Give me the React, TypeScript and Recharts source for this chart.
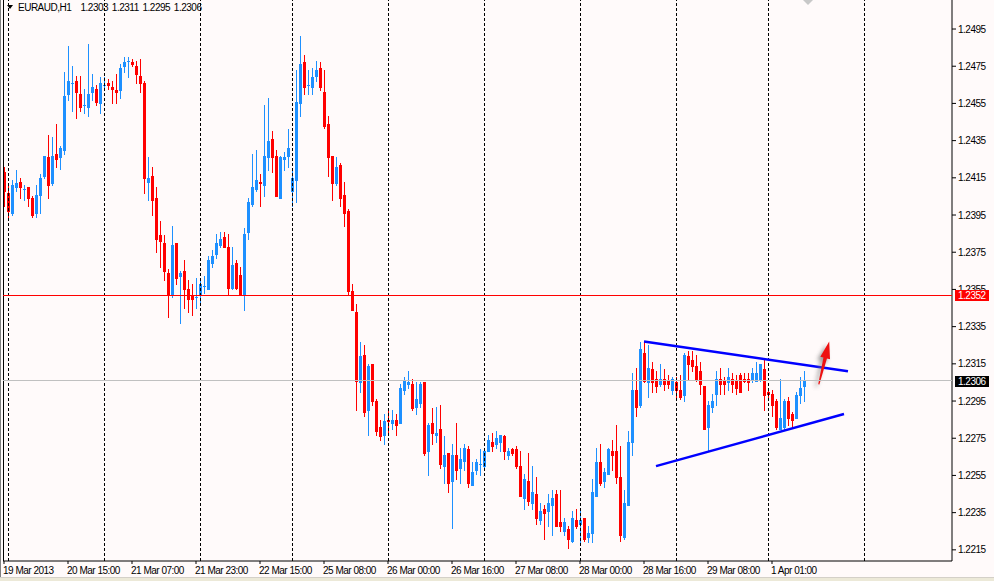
import { ComposedChart, Bar, XAxis, YAxis, ReferenceLine, ReferenceDot } from "recharts";

// EURAUD H1, bar 0 = 19 Mar 2013 23:00 ... bar 200 = 1 Apr 2013 09:00
const opens = [
  1.2418, 1.2407, 1.2396, 1.2410, 1.2413, 1.2409, 1.2410, 1.2404, 1.2396, 1.2406,
  1.2416, 1.2426, 1.2412, 1.2428, 1.2426, 1.2430, 1.2460, 1.2466, 1.2467, 1.2460,
  1.2454, 1.2453, 1.2461, 1.2463, 1.2455, 1.2465, 1.2466, 1.2464, 1.2462, 1.2462,
  1.2475, 1.2478, 1.2477, 1.2475, 1.2470, 1.2466, 1.2413, 1.2416, 1.2404, 1.2384,
  1.2380, 1.2364, 1.2352, 1.2380, 1.2362, 1.2365, 1.2355, 1.2352, 1.2351, 1.2352,
  1.2357, 1.2355, 1.2369, 1.2374, 1.2379, 1.2383, 1.2378, 1.2356, 1.2369, 1.2363,
  1.2352, 1.2386, 1.2401, 1.2409, 1.2413, 1.2411, 1.2426, 1.2436, 1.2427, 1.2404,
  1.2425, 1.2427, 1.2408, 1.2414, 1.2455, 1.2477, 1.2465, 1.2464, 1.2470, 1.2474,
  1.2461, 1.2444, 1.2427, 1.2412, 1.2422, 1.2406, 1.2397, 1.2354, 1.2343, 1.2305,
  1.2320, 1.2290, 1.2315, 1.2295, 1.2281, 1.2277, 1.2285, 1.2283, 1.2285, 1.2283,
  1.2301, 1.2304, 1.2304, 1.2292, 1.2294, 1.2305, 1.2268, 1.2283, 1.2277, 1.2280,
  1.2260, 1.2267, 1.2252, 1.2266, 1.2259, 1.2263, 1.2269, 1.2250, 1.2258, 1.2261,
  1.2260, 1.2268, 1.2273, 1.2272, 1.2273, 1.2276, 1.2266, 1.2269, 1.2269, 1.2260,
  1.2243, 1.2252, 1.2240, 1.2245, 1.2231, 1.2237, 1.2236, 1.2239, 1.2245, 1.2230,
  1.2225, 1.2226, 1.2220, 1.2231, 1.2229, 1.2232, 1.2222, 1.2224, 1.2244, 1.2262,
  1.2252, 1.2256, 1.2268, 1.2268, 1.2254, 1.2222, 1.2239, 1.2273, 1.2301, 1.2293,
  1.2321, 1.2305, 1.2312, 1.2307, 1.2304, 1.2307, 1.2306, 1.2301, 1.2305, 1.2301,
  1.2298, 1.2319, 1.2317, 1.2314, 1.2311, 1.2303, 1.2281, 1.2292, 1.2299, 1.2307,
  1.2306, 1.2305, 1.2307, 1.2306, 1.2309, 1.2307, 1.2307, 1.2307, 1.2306, 1.2307,
  1.2312, 1.2300, 1.2299, 1.2295, 1.2280, 1.2281, 1.2295, 1.2288, 1.2286, 1.2298,
  1.2303,
];

const highs = [
  1.2421, 1.2412, 1.2414, 1.2419, 1.2415, 1.2411, 1.2410, 1.2405, 1.2411, 1.2417,
  1.2427, 1.2438, 1.2437, 1.2444, 1.2432, 1.2472, 1.2486, 1.2475, 1.2470, 1.2470,
  1.2463, 1.2487, 1.2471, 1.2465, 1.2469, 1.2469, 1.2468, 1.2467, 1.2471, 1.2476,
  1.2480, 1.2480, 1.2479, 1.2478, 1.2479, 1.2467, 1.2426, 1.2421, 1.2410, 1.2392,
  1.2384, 1.2366, 1.2389, 1.2380, 1.2365, 1.2371, 1.2360, 1.2358, 1.2361, 1.2361,
  1.2362, 1.2373, 1.2376, 1.2385, 1.2386, 1.2386, 1.2385, 1.2378, 1.2371, 1.2367,
  1.2388, 1.2404, 1.2428, 1.2430, 1.2417, 1.2454, 1.2458, 1.2440, 1.2430, 1.2427,
  1.2429, 1.2441, 1.2420, 1.2473, 1.2491, 1.2481, 1.2473, 1.2474, 1.2478, 1.2477,
  1.2473, 1.2448, 1.2427, 1.2426, 1.2423, 1.2413, 1.2398, 1.2358, 1.2347, 1.2327,
  1.2325, 1.2315, 1.2315, 1.2296, 1.2285, 1.2288, 1.2291, 1.2290, 1.2288, 1.2304,
  1.2308, 1.2311, 1.2307, 1.2305, 1.2305, 1.2305, 1.2283, 1.2291, 1.2292, 1.2293,
  1.2276, 1.2267, 1.2272, 1.2283, 1.2270, 1.2272, 1.2271, 1.2262, 1.2264, 1.2269,
  1.2269, 1.2277, 1.2278, 1.2279, 1.2277, 1.2277, 1.2270, 1.2270, 1.2271, 1.2268,
  1.2256, 1.2267, 1.2260, 1.2254, 1.2240, 1.2239, 1.2245, 1.2247, 1.2247, 1.2247,
  1.2232, 1.2228, 1.2236, 1.2237, 1.2236, 1.2232, 1.2228, 1.2253, 1.2270, 1.2272,
  1.2259, 1.2270, 1.2274, 1.2282, 1.2271, 1.2247, 1.2279, 1.2310, 1.2313, 1.2327,
  1.2327, 1.2325, 1.2316, 1.2311, 1.2315, 1.2312, 1.2309, 1.2308, 1.2308, 1.2309,
  1.2321, 1.2322, 1.2322, 1.2320, 1.2316, 1.2303, 1.2295, 1.2299, 1.2311, 1.2313,
  1.2308, 1.2313, 1.2310, 1.2309, 1.2310, 1.2310, 1.2310, 1.2313, 1.2316, 1.2315,
  1.2317, 1.2302, 1.2301, 1.2296, 1.2307, 1.2296, 1.2297, 1.2289, 1.2300, 1.2308,
  1.2311,
];

const lows = [
  1.2400, 1.2394, 1.2395, 1.2408, 1.2404, 1.2403, 1.2400, 1.2394, 1.2394, 1.2396,
  1.2415, 1.2404, 1.2411, 1.2421, 1.2420, 1.2428, 1.2457, 1.2451, 1.2447, 1.2451,
  1.2450, 1.2448, 1.2457, 1.2454, 1.2450, 1.2462, 1.2463, 1.2455, 1.2455, 1.2458,
  1.2472, 1.2469, 1.2475, 1.2466, 1.2461, 1.2407, 1.2403, 1.2395, 1.2375, 1.2367,
  1.2360, 1.2340, 1.2351, 1.2358, 1.2337, 1.2345, 1.2343, 1.2341, 1.2345, 1.2348,
  1.2353, 1.2355, 1.2367, 1.2372, 1.2378, 1.2378, 1.2352, 1.2355, 1.2355, 1.2352,
  1.2344, 1.2382, 1.2400, 1.2408, 1.2400, 1.2405, 1.2419, 1.2418, 1.2405, 1.2404,
  1.2419, 1.2421, 1.2400, 1.2402, 1.2448, 1.2460, 1.2460, 1.2460, 1.2467, 1.2462,
  1.2442, 1.2416, 1.2403, 1.2411, 1.2400, 1.2389, 1.2352, 1.2344, 1.2290, 1.2300,
  1.2287, 1.2277, 1.2293, 1.2277, 1.2274, 1.2272, 1.2278, 1.2280, 1.2277, 1.2283,
  1.2299, 1.2302, 1.2290, 1.2288, 1.2292, 1.2266, 1.2255, 1.2272, 1.2273, 1.2259,
  1.2251, 1.2246, 1.2227, 1.2253, 1.2251, 1.2258, 1.2249, 1.2250, 1.2256, 1.2255,
  1.2259, 1.2268, 1.2268, 1.2270, 1.2268, 1.2264, 1.2264, 1.2266, 1.2259, 1.2244,
  1.2237, 1.2239, 1.2237, 1.2229, 1.2229, 1.2221, 1.2228, 1.2223, 1.2228, 1.2225,
  1.2223, 1.2216, 1.2219, 1.2227, 1.2219, 1.2220, 1.2219, 1.2219, 1.2244, 1.2250,
  1.2249, 1.2256, 1.2258, 1.2251, 1.2220, 1.2221, 1.2239, 1.2266, 1.2287, 1.2292,
  1.2305, 1.2297, 1.2300, 1.2300, 1.2303, 1.2301, 1.2302, 1.2299, 1.2296, 1.2296,
  1.2295, 1.2307, 1.2311, 1.2306, 1.2299, 1.2280, 1.2268, 1.2289, 1.2293, 1.2299,
  1.2299, 1.2301, 1.2300, 1.2299, 1.2300, 1.2305, 1.2301, 1.2305, 1.2306, 1.2306,
  1.2290, 1.2296, 1.2287, 1.2280, 1.2280, 1.2280, 1.2282, 1.2281, 1.2286, 1.2294,
  1.2295,
];

const closes = [
  1.2408, 1.2397, 1.2411, 1.2412, 1.2410, 1.2409, 1.2404, 1.2395, 1.2406, 1.2415,
  1.2427, 1.2411, 1.2427, 1.2425, 1.2431, 1.2459, 1.2467, 1.2466, 1.2461, 1.2453,
  1.2454, 1.2460, 1.2464, 1.2456, 1.2466, 1.2465, 1.2465, 1.2463, 1.2461, 1.2474,
  1.2477, 1.2478, 1.2476, 1.2471, 1.2466, 1.2415, 1.2415, 1.2403, 1.2382, 1.2381,
  1.2365, 1.2352, 1.2379, 1.2361, 1.2364, 1.2355, 1.2350, 1.2350, 1.2351, 1.2358,
  1.2357, 1.2371, 1.2373, 1.2380, 1.2382, 1.2378, 1.2356, 1.2368, 1.2356, 1.2352,
  1.2385, 1.2402, 1.2410, 1.2414, 1.2412, 1.2427, 1.2435, 1.2426, 1.2405, 1.2426,
  1.2426, 1.2431, 1.2415, 1.2456, 1.2476, 1.2464, 1.2465, 1.2469, 1.2473, 1.2464,
  1.2443, 1.2426, 1.2412, 1.2421, 1.2404, 1.2396, 1.2354, 1.2344, 1.2306, 1.2319,
  1.2289, 1.2314, 1.2295, 1.2279, 1.2276, 1.2284, 1.2284, 1.2285, 1.2282, 1.2302,
  1.2306, 1.2305, 1.2291, 1.2296, 1.2304, 1.2267, 1.2282, 1.2278, 1.2278, 1.2261,
  1.2266, 1.2251, 1.2266, 1.2258, 1.2264, 1.2270, 1.2251, 1.2257, 1.2262, 1.2261,
  1.2268, 1.2274, 1.2271, 1.2275, 1.2277, 1.2268, 1.2268, 1.2267, 1.2260, 1.2244,
  1.2253, 1.2241, 1.2246, 1.2232, 1.2236, 1.2235, 1.2240, 1.2243, 1.2228, 1.2228,
  1.2230, 1.2221, 1.2232, 1.2228, 1.2231, 1.2221, 1.2224, 1.2246, 1.2262, 1.2251,
  1.2257, 1.2269, 1.2266, 1.2254, 1.2223, 1.2240, 1.2273, 1.2301, 1.2292, 1.2323,
  1.2306, 1.2313, 1.2305, 1.2303, 1.2307, 1.2304, 1.2304, 1.2307, 1.2301, 1.2297,
  1.2320, 1.2315, 1.2314, 1.2307, 1.2304, 1.2280, 1.2293, 1.2295, 1.2307, 1.2304,
  1.2304, 1.2308, 1.2304, 1.2302, 1.2300, 1.2306, 1.2305, 1.2310, 1.2310, 1.2315,
  1.2298, 1.2299, 1.2293, 1.2281, 1.2286, 1.2295, 1.2286, 1.2285, 1.2298, 1.2302,
  1.2306,
];

// time axis: bar index -> label
const tickIdx = [0, 16, 32, 48, 64, 80, 96, 112, 128, 144, 160, 176, 192];
const tickLabels = [
  "19 Mar 2013", "20 Mar 15:00", "21 Mar 07:00", "21 Mar 23:00", "22 Mar 15:00",
  "25 Mar 08:00", "26 Mar 00:00", "26 Mar 16:00", "27 Mar 08:00", "28 Mar 00:00",
  "28 Mar 16:00", "29 Mar 08:00", "1 Apr 01:00",
];
// period separators (first bar of each day)
const dayStarts = [1, 25, 49, 72, 96, 120, 144, 168, 191, 215];

const priceTicks = [
  1.2215, 1.2235, 1.2255, 1.2275, 1.2295, 1.2315, 1.2335, 1.2355,
  1.2375, 1.2395, 1.2415, 1.2435, 1.2455, 1.2475, 1.2495,
];

const levelLine = 1.2352;
const upperTrend = [{ x: 160, y: 1.2327 }, { x: 211, y: 1.2311 }];
const lowerTrend = [{ x: 163, y: 1.2260 }, { x: 210, y: 1.2288 }];
const arrowPts = [{ x: 203.7, y: 1.2304 }, { x: 206.3, y: 1.2327 }];

const X_DOMAIN = [-0.25, 237];
const Y_DOMAIN = [1.2209, 1.25106];

const UP = "#1E90FF";
const DOWN = "#FF0000";
const FONT = "'Liberation Sans', Arial, sans-serif";

const Candle = (props: any) => {
  const { x, y, width, height, payload } = props;
  if (!payload) return null;
  const { open, close, high, low } = payload;
  const top = Math.min(y, y + height);
  const h = Math.abs(height);
  const span = high - low;
  const toY = (p: number) => (span > 0 ? top + ((high - p) / span) * h : top);
  const cx = Math.round(x + width / 2);
  const color = close >= open ? UP : DOWN;
  const wTop = Math.round(top);
  const wBot = Math.round(top + h);
  const bTop = Math.round(toY(Math.max(open, close)));
  const bBot = Math.round(toY(Math.min(open, close)));
  return (
    <g shapeRendering="crispEdges">
      <rect x={cx} y={wTop} width={1} height={Math.max(1, wBot - wTop + 1)} fill={color} />
      <rect x={cx - 1} y={bTop} width={3} height={Math.max(1, bBot - bTop + 1)} fill={color} />
    </g>
  );
};

const XTick = (props: any) => {
  const { x, y, payload } = props;
  const k = tickIdx.indexOf(payload.value);
  return (
    <text x={x - 1} y={y + 10} fontSize={10} fontFamily={FONT} letterSpacing={-0.5} fill="#000" textAnchor="start">
      {k >= 0 ? tickLabels[k] : ""}
    </text>
  );
};

const YTick = (props: any) => {
  const { x, y, payload } = props;
  return (
    <text x={x} y={y + 3.5} fontSize={10} fontFamily={FONT} letterSpacing={-0.5} fill="#000" textAnchor="start">
      {Number(payload.value).toFixed(4)}
    </text>
  );
};

const priceTag = (fill: string, value: number) => (p: any) => {
  const vb = p.viewBox || {};
  const bx = vb.x + vb.width + 3;
  return (
    <g shapeRendering="crispEdges">
      <rect x={bx} y={vb.y - 5} width={34} height={11} fill={fill} />
      <text x={bx + 3} y={vb.y + 4} fontSize={10} fontFamily={FONT} letterSpacing={-0.5} fill="#fff">
        {value.toFixed(4)}
      </text>
    </g>
  );
};

const Arrow = (p: any) => {
  const { x1, y1, x2, y2 } = p;
  const dx = x2 - x1;
  const dy = y2 - y1;
  const len = Math.sqrt(dx * dx + dy * dy) || 1;
  const ux = dx / len;
  const uy = dy / len;
  const nx = -uy;
  const ny = ux;
  const headLen = 17;
  const bx = x2 - ux * headLen;
  const by = y2 - uy * headLen;
  const shape = [
    `${x1 + nx * 0.6},${y1 + ny * 0.6}`,
    `${bx + nx * 1.8},${by + ny * 1.8}`,
    `${bx + nx * 5},${by + ny * 5}`,
    `${x2},${y2}`,
    `${bx - nx * 5},${by - ny * 5}`,
    `${bx - nx * 1.8},${by - ny * 1.8}`,
    `${x1 - nx * 0.6},${y1 - ny * 0.6}`,
  ].join(" ");
  return (
    <g>
      <defs>
        <filter id="arrowShadow" x="-50%" y="-50%" width="200%" height="200%">
          <feGaussianBlur stdDeviation="2.2" />
        </filter>
      </defs>
      <polygon points={shape} fill="#777" opacity={0.75} transform="translate(-3,3)" filter="url(#arrowShadow)" />
      <polygon points={shape} fill="#EE1111" />
    </g>
  );
};

const Diamond = (p: any) => {
  const { cx, cy } = p;
  return <polygon points={`${cx - 5},${cy} ${cx},${cy - 5} ${cx + 5},${cy} ${cx},${cy + 5}`} fill="#C8C8C8" />;
};

export default function App() {
  const data = opens.map((o, i) => ({
    i,
    open: o,
    high: highs[i],
    low: lows[i],
    close: closes[i],
    range: [lows[i], highs[i]],
  }));
  const last = data.length - 1;

  return (
    <div style={{ position: "fixed", left: 0, top: 0, width: 994, height: 581, background: "#FFFAFA", overflow: "hidden" }}>
      <ComposedChart width={994} height={577} data={data} margin={{ top: 0, right: 0, bottom: 0, left: 3 }}>
        <XAxis
          dataKey="i"
          type="number"
          domain={X_DOMAIN}
          allowDataOverflow
          ticks={tickIdx}
          interval={0}
          tickSize={3}
          tickMargin={0}
          height={16}
          axisLine={{ stroke: "#000" }}
          tickLine={{ stroke: "#000" }}
          tick={XTick}
        />
        <YAxis
          orientation="right"
          type="number"
          domain={Y_DOMAIN}
          allowDataOverflow
          ticks={priceTicks}
          interval={0}
          width={42}
          tickSize={4}
          tickMargin={2}
          axisLine={{ stroke: "#000" }}
          tickLine={{ stroke: "#000" }}
          tick={YTick}
        />
        <ReferenceLine x={-0.25} stroke="#000" shapeRendering="crispEdges" />
        {dayStarts.map((d) => (
          <ReferenceLine key={d} x={d} stroke="#000" strokeDasharray="3 2" shapeRendering="crispEdges" />
        ))}
        <Bar dataKey="range" barSize={3} shape={Candle} isAnimationActive={false} />
        <ReferenceLine segment={upperTrend} stroke="#0000FF" strokeWidth={2.5} />
        <ReferenceLine segment={lowerTrend} stroke="#0000FF" strokeWidth={2.5} />
        <ReferenceLine segment={arrowPts} shape={Arrow} />
        <ReferenceDot x={201} y={1.25106} ifOverflow="visible" shape={Diamond} />
      </ComposedChart>

      {/* same scales, drawn on top so the price tags cover the axis labels */}
      <div style={{ position: "absolute", left: 0, top: 0, pointerEvents: "none" }}>
        <ComposedChart width={994} height={577} data={data} margin={{ top: 0, right: 42, bottom: 16, left: 3 }}>
          <XAxis dataKey="i" type="number" domain={X_DOMAIN} allowDataOverflow hide />
          <YAxis type="number" domain={Y_DOMAIN} allowDataOverflow hide />
          <ReferenceLine
            y={levelLine}
            stroke="#FF0000"
            strokeWidth={1}
            shapeRendering="crispEdges"
            label={priceTag("#FF0000", levelLine)}
          />
          <ReferenceLine
            y={closes[last]}
            stroke="#C0C0C0"
            strokeWidth={1}
            shapeRendering="crispEdges"
            label={priceTag("#000000", closes[last])}
          />
        </ComposedChart>
      </div>

      <svg width={220} height={14} style={{ position: "absolute", left: 0, top: 0 }}>
        <polygon points="7,5 13,5 10,9" fill="#000" />
        <text x={18} y={11} fontSize={10} fontFamily={FONT} letterSpacing={-0.5} fill="#000">EURAUD,H1</text>
        <text x={80.5} y={11} fontSize={10} fontFamily={FONT} letterSpacing={-0.5} wordSpacing={1.5} fill="#000">
          {`${opens[last].toFixed(4)} ${highs[last].toFixed(4)} ${lows[last].toFixed(4)} ${closes[last].toFixed(4)}`}
        </text>
      </svg>
      <div style={{ position: "absolute", left: 0, top: 0, width: 1, height: 577, background: "#808080" }} />
      <div style={{ position: "absolute", left: 0, top: 577, width: 994, height: 4, background: "#ECE9D8", borderTop: "1px solid #D4D0C8" }} />
    </div>
  );
}
